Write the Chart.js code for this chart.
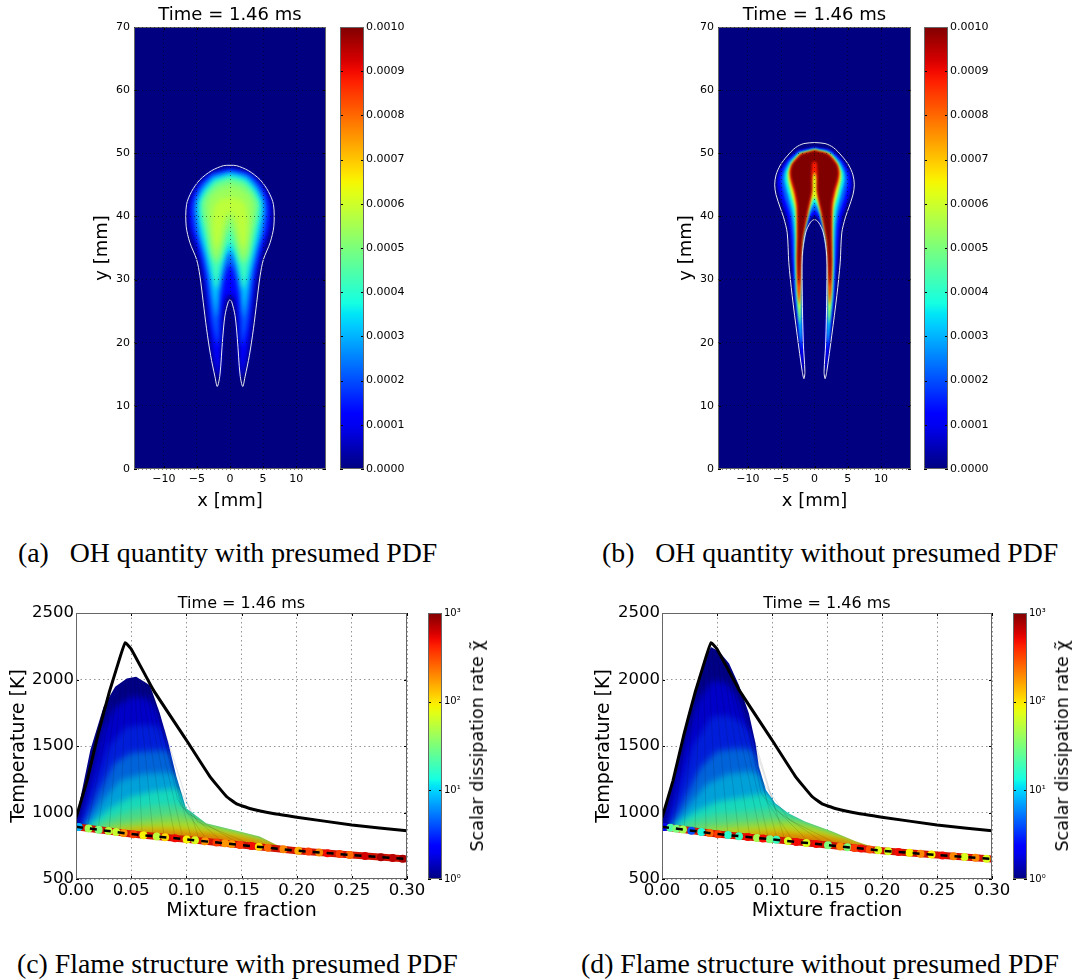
<!DOCTYPE html>
<html>
<head>
<meta charset="utf-8">
<style>
  html, body { margin: 0; background: #fff; }
  body { width: 1091px; height: 980px; position: relative; overflow: hidden; }
  canvas { position: absolute; }
  .cap { position: absolute; font-family: "Liberation Serif", serif; font-size: 27.8px; color: #000; white-space: pre; line-height: 30px; }
  .cbl { position: absolute; top: 746px; font-family: "DejaVu Sans", sans-serif; font-size: 17.5px; color: #000; white-space: pre; transform: translate(-50%, -50%) rotate(-90deg); }
</style>
</head>
<body>
<div class="cap" style="left:18px;top:538px">(a)   OH quantity with presumed PDF</div>
<div class="cap" style="left:602px;top:538px">(b)   OH quantity without presumed PDF</div>
<div class="cap" style="left:17px;top:949px">(c) Flame structure with presumed PDF</div>
<div class="cap" style="left:581px;top:949px">(d) Flame structure without presumed PDF</div>
<script src="https://cdn.jsdelivr.net/npm/chart.js@4"></script>
<script>
// top panels: half contours of the OH field, mirrored about x = 0
const fieldXTicks = [-10, -5, 0, 5, 10];
const fieldXLabels = ['−10', '−5', '0', '5', '10'];
const fieldYTicks = [0, 10, 20, 30, 40, 50, 60, 70];
const fieldYLabels = ['0', '10', '20', '30', '40', '50', '60', '70'];
const ohTicks = [0, 0.0001, 0.0002, 0.0003, 0.0004, 0.0005, 0.0006, 0.0007, 0.0008, 0.0009, 0.001];
const ohTickLabels = ['0.0000', '0.0001', '0.0002', '0.0003', '0.0004', '0.0005', '0.0006', '0.0007', '0.0008', '0.0009', '0.0010'];

const aOutlineX = [0, 1.0, 2.78, 4.55, 5.8, 6.57, 6.62, 6.06, 5.05, 4.55, 4.04, 3.54, 2.93, 2.27, 1.92, 1.52, 1.11, 0.76, 0.25, 0];
const aOutlineY = [48.1, 48.04, 47.25, 45.8, 43.95, 41.86, 38.45, 35.84, 33.2, 30.6, 26.4, 22.2, 18.0, 14.6, 13.06, 14.9, 20.65, 24.3, 26.5, 26.8];
const aLevels = [0.00011, 0.00022, 0.00033, 0.00043, 0.0005, 0.00054, 0.00058];
const aLevelX = [
  [0, 2.7, 4.5, 5.7, 6.2, 6.1, 5.3, 4.5, 4.0, 3.5, 3.1, 2.6, 2.1, 1.7, 1.45, 1.3, 1.1, 0.5, 0],
  [0, 2.6, 4.3, 5.3, 5.6, 5.3, 4.4, 3.6, 3.1, 2.6, 2.1, 1.8, 1.7, 1.6, 1.0, 0.5, 0],
  [0, 2.5, 4.0, 4.9, 5.0, 4.5, 3.7, 3.0, 2.6, 2.2, 2.0, 1.9, 1.75, 1.3, 0.6, 0],
  [0, 2.3, 3.7, 4.5, 4.5, 3.9, 3.2, 2.6, 2.2, 1.95, 1.75, 1.4, 0.7, 0],
  [0, 2.1, 3.4, 4.1, 3.9, 3.3, 2.9, 2.4, 2.0, 1.6, 1.1, 0.5, 0],
  [0, 1.8, 3.0, 3.4, 3.2, 2.8, 2.4, 2.0, 1.6, 1.1, 0.6, 0],
  [0, 1.5, 2.4, 2.6, 2.5, 2.2, 1.95, 1.6, 1.2, 0.7, 0]
];
const aLevelY = [
  [47.7, 47, 45.4, 43.5, 41.5, 38.5, 35.8, 33, 30.5, 26.4, 22.2, 18, 15.5, 14.5, 17, 20.6, 24.3, 27.3, 27.6],
  [47.3, 46.7, 45, 43, 41, 38, 34.8, 31, 27, 23, 20.5, 19.5, 22, 26, 29.5, 31.5, 32.5],
  [46.9, 46.2, 44.5, 42.5, 40.5, 37, 33.8, 30.5, 27.5, 25, 24, 25.5, 28.5, 31, 33.5, 34.5],
  [46.4, 45.7, 44, 42.3, 40.3, 37, 34, 31, 29, 28.5, 30, 32, 34.5, 35.8],
  [45.8, 45.1, 43.6, 42, 39.7, 37, 34.5, 33, 32.5, 33.2, 35, 37, 38],
  [44.8, 44.2, 43, 41.5, 39, 36.5, 34.2, 33.6, 34.5, 36.5, 38.5, 39.5],
  [43, 42.7, 41.5, 39.5, 37, 35.3, 35, 36, 38, 39.8, 40.8]
];

const bOutlineX = [0, 1.59, 2.85, 4.12, 5.13, 5.78, 5.98, 5.78, 5.13, 4.62, 4.1, 3.86, 3.36, 2.6, 1.84, 1.59, 1.44, 1.69, 1.84, 1.84, 1.34, 0.58, 0];
const bOutlineY = [51.7, 51.54, 50.9, 49.55, 48.14, 46.57, 45, 43.43, 41.33, 39.76, 37.4, 32.7, 27.5, 21.2, 15.4, 14.3, 15.4, 20.1, 27.5, 33.7, 37.4, 39.1, 39.5];
const bLevels = [0.00011, 0.00022, 0.00036, 0.00062, 0.00088, 0.001];
const bLevelX = [
  [0, 2.5, 4.1, 5.3, 5.6, 5.1, 4.1, 3.7, 3.4, 3.0, 2.4, 1.85, 1.7, 1.6, 1.9, 1.95, 1.45, 0.7, 0],
  [0, 2.4, 3.9, 4.8, 5.0, 4.5, 3.6, 3.3, 3.1, 2.85, 2.3, 1.95, 1.85, 1.95, 2.0, 1.5, 0.7, 0],
  [0, 2.3, 3.7, 4.4, 4.5, 4.0, 3.3, 3.0, 2.95, 2.75, 2.3, 2.05, 2.0, 2.05, 2.05, 1.6, 0.8, 0],
  [0, 2.2, 3.5, 4.0, 4.0, 3.5, 2.9, 2.75, 2.75, 2.6, 2.35, 2.2, 2.05, 2.0, 2.0, 1.7, 0.9, 0],
  [0, 2.1, 3.4, 3.75, 3.6, 3.1, 2.7, 2.6, 2.65, 2.55, 2.35, 2.25, 2.05, 1.85, 1.0, 0.35, 0.3, 0],
  [0, 2.0, 3.3, 3.55, 3.4, 2.9, 2.55, 2.5, 2.55, 2.45, 2.3, 2.15, 2.0, 1.8, 1.1, 0.45, 0.45, 0.4, 0.3, 0]
];
const bLevelY = [
  [51, 50.5, 49, 47, 45, 42.8, 39.8, 37.4, 32.7, 27.5, 21.2, 16, 15.5, 20, 27.5, 33.7, 37.2, 39.5, 40.2],
  [50.8, 50.3, 48.8, 47, 45.5, 43, 40, 37, 32.7, 27.5, 22, 19, 22, 28, 33.7, 37, 40, 41],
  [50.7, 50.1, 48.6, 47, 45.7, 43.5, 40.5, 37, 32.7, 27.5, 23, 20, 25, 30, 33.5, 36.8, 40.5, 42],
  [50.6, 50, 48.4, 47, 45.8, 43.5, 41, 37, 32.7, 28, 24.5, 23, 27, 30, 33, 36.5, 40.5, 43],
  [50.5, 49.9, 48.3, 47, 45.7, 43.8, 41.5, 37, 32.7, 28.5, 26.5, 26, 30, 36, 40.5, 44, 46, 47],
  [50.4, 49.8, 48.2, 47, 45.8, 44, 42, 38, 33, 30.5, 29, 31, 34, 36.5, 40.8, 44, 46.5, 47.5, 48.5, 48.7]
];

// bottom panels: flame structure
const mixXTicks = [0, 0.05, 0.1, 0.15, 0.2, 0.25, 0.3];
const mixXLabels = ['0.00', '0.05', '0.10', '0.15', '0.20', '0.25', '0.30'];
const tempYTicks = [500, 1000, 1500, 2000, 2500];
const tempYLabels = ['500', '1000', '1500', '2000', '2500'];
const chiTicks = [1, 10, 100, 1000];
const chiTickLabels = ['10⁰', '10¹', '10²', '10³'];

const eqZ = [0, 0.01, 0.02, 0.03, 0.04, 0.0446, 0.05, 0.0702, 0.1, 0.1214, 0.1364, 0.1455, 0.1575, 0.1786, 0.2, 0.25, 0.3];
const eqT = [960, 1240, 1590, 1900, 2170, 2277, 2230, 1920, 1545, 1270, 1120, 1065, 1030, 992, 965, 906, 863];
const baseZ = [0, 0.05, 0.1, 0.15, 0.2, 0.25, 0.3];
const baseT = [893, 838, 798, 755, 713, 680, 650];

const cLevels = [1.2, 1.9, 3, 5.2, 8.5, 14, 22, 36, 63, 110, 220];
const cLevelZ = [
  [0, 0.013, 0.025, 0.0355, 0.046, 0.0545, 0.067, 0.076, 0.0837, 0.091, 0.0997, 0.118, 0.1485, 0.1666, 0.1816, 0.2027, 0.22],
  [0.002, 0.014, 0.024, 0.035, 0.05, 0.065, 0.075, 0.0837, 0.091, 0.0997, 0.118, 0.1485, 0.1666, 0.1816, 0.2027, 0.22],
  [0.004, 0.016, 0.03, 0.045, 0.06, 0.075, 0.083],
  [0.006, 0.02, 0.035, 0.05, 0.065, 0.08, 0.086],
  [0.008, 0.025, 0.04, 0.06, 0.08, 0.09],
  [0.01, 0.03, 0.05, 0.07, 0.09, 0.094],
  [0.012, 0.03, 0.05, 0.07, 0.09, 0.0985],
  [0.016, 0.04, 0.07, 0.095, 0.105, 0.12, 0.15, 0.17, 0.185, 0.21],
  [0.022, 0.05, 0.08, 0.105, 0.125, 0.15, 0.165, 0.18, 0.205],
  [0.03, 0.06, 0.09, 0.12, 0.15, 0.18, 0.2, 0.22],
  [0.04, 0.08, 0.12, 0.15, 0.2]
];
const cLevelT = [
  [945, 1470, 1795, 1945, 2007, 2020, 1957, 1745, 1520, 1270, 1033, 920, 858, 820, 757, 707, 680],
  [900, 1300, 1620, 1790, 1870, 1860, 1760, 1510, 1265, 1030, 915, 853, 815, 752, 702, 678],
  [900, 1200, 1500, 1640, 1660, 1650, 1530],
  [890, 1150, 1370, 1450, 1460, 1470, 1440],
  [885, 1100, 1240, 1290, 1300, 1290],
  [885, 1030, 1120, 1160, 1180, 1160],
  [880, 960, 1020, 1050, 1060, 1040],
  [875, 930, 970, 990, 960, 905, 850, 812, 755, 700],
  [868, 895, 925, 925, 885, 840, 800, 755, 700],
  [860, 880, 880, 855, 820, 765, 720, 695],
  [850, 850, 830, 795, 725]
];
const dLevels = [1.2, 1.9, 3, 5.2, 8.5, 14, 22, 36, 63, 110, 220];
const dLevelZ = [
  [0, 0.01, 0.02, 0.03, 0.04, 0.0445, 0.052, 0.061, 0.07, 0.079, 0.085, 0.088, 0.0945, 0.103, 0.115, 0.13, 0.155, 0.176, 0.195, 0.207, 0.225],
  [0.003, 0.012, 0.022, 0.032, 0.045, 0.058, 0.068, 0.077, 0.084, 0.087, 0.094, 0.103, 0.115, 0.13, 0.155, 0.176, 0.195, 0.207, 0.225],
  [0.005, 0.015, 0.028, 0.045, 0.06, 0.072, 0.08, 0.086],
  [0.008, 0.02, 0.035, 0.05, 0.065, 0.08, 0.085],
  [0.009, 0.025, 0.04, 0.06, 0.08, 0.089],
  [0.01, 0.03, 0.05, 0.07, 0.09, 0.096],
  [0.012, 0.03, 0.05, 0.075, 0.1, 0.108],
  [0.02, 0.04, 0.07, 0.1, 0.125, 0.15, 0.17, 0.195, 0.215],
  [0.03, 0.06, 0.09, 0.115, 0.14, 0.165, 0.19, 0.215],
  [0.05, 0.08, 0.11, 0.14, 0.17, 0.2, 0.225],
  [0.07, 0.11, 0.14, 0.17, 0.2, 0.23]
];
const dLevelT = [
  [945, 1240, 1590, 1900, 2170, 2245, 2210, 2120, 1957, 1745, 1520, 1345, 1170, 1070, 995, 932, 858, 783, 733, 707, 672],
  [900, 1250, 1560, 1830, 1990, 1980, 1880, 1720, 1500, 1330, 1160, 1060, 985, 925, 852, 778, 728, 702, 668],
  [895, 1150, 1500, 1720, 1730, 1680, 1600, 1440],
  [890, 1100, 1340, 1460, 1480, 1480, 1430],
  [888, 1060, 1210, 1290, 1310, 1280],
  [885, 1010, 1080, 1110, 1140, 1140],
  [880, 950, 990, 1010, 1030, 1030],
  [868, 905, 935, 955, 935, 865, 800, 735, 695],
  [860, 880, 905, 920, 880, 815, 745, 695],
  [840, 855, 870, 840, 790, 725, 685],
  [825, 830, 815, 775, 720, 680]
];

// mesh ribs, one per line: base point to crest point
const cRibZ = [[0.01, 0.03], [0.02, 0.036], [0.03, 0.04], [0.04, 0.045], [0.05, 0.05], [0.06, 0.053], [0.07, 0.056], [0.08, 0.059], [0.09, 0.062], [0.097, 0.065], [0.105, 0.068], [0.112, 0.071], [0.12, 0.092, 0.074], [0.135, 0.095, 0.08], [0.15, 0.1, 0.086], [0.165, 0.11, 0.092]];
const cRibT = [[880, 1720], [870, 1850], [860, 1920], [850, 1980], [838, 2010], [828, 2015], [820, 2015], [812, 2005], [805, 1990], [798, 1965], [790, 1930], [785, 1860], [778, 1100, 1790], [765, 1050, 1630], [755, 1000, 1400], [738, 930, 1200]];
const dRibZ = [[0.01, 0.022], [0.02, 0.028], [0.03, 0.034], [0.04, 0.038], [0.05, 0.042], [0.06, 0.046], [0.07, 0.05], [0.08, 0.054], [0.09, 0.057], [0.097, 0.06], [0.105, 0.064], [0.112, 0.068], [0.12, 0.09, 0.072], [0.135, 0.095, 0.079], [0.15, 0.103, 0.085], [0.165, 0.115, 0.09]];
const dRibT = [[880, 1640], [870, 1830], [860, 1960], [850, 2090], [838, 2190], [828, 2220], [820, 2215], [812, 2190], [805, 2150], [798, 2110], [790, 2050], [785, 1980], [778, 1150, 1900], [765, 1100, 1700], [755, 1020, 1480], [738, 950, 1250]];

// scattered low-temperature points and their chi colour value
const cDotZ = [0.0024, 0.0114, 0.0205, 0.0295, 0.0364, 0.0431, 0.0521, 0.0611, 0.0732, 0.0807, 0.0898, 0.1003, 0.1078, 0.1169, 0.1274, 0.135, 0.141, 0.1485, 0.159, 0.1657, 0.174, 0.188, 0.2015, 0.2105, 0.2204, 0.228, 0.239, 0.248, 0.262, 0.2764, 0.287, 0.296];
const cDotChi = [8, 45, 32, 55, 60, 180, 350, 90, 55, 110, 500, 90, 70, 180, 350, 180, 180, 350, 500, 110, 250, 200, 150, 350, 200, 500, 350, 250, 600, 800, 700, 800];
const dDotZ = [0.0024, 0.0076, 0.013, 0.019, 0.0267, 0.0358, 0.0433, 0.051, 0.06, 0.07, 0.078, 0.0864, 0.0918, 0.098, 0.1039, 0.1145, 0.122, 0.1312, 0.1403, 0.1509, 0.162, 0.1685, 0.175, 0.181, 0.1888, 0.1964, 0.2055, 0.215, 0.225, 0.235, 0.245, 0.255, 0.265, 0.275, 0.285, 0.295];
const dDotChi = [2, 22, 32, 45, 4, 14, 250, 350, 16, 18, 500, 45, 500, 32, 18, 70, 500, 70, 500, 32, 200, 32, 350, 500, 300, 70, 70, 500, 90, 200, 90, 500, 200, 70, 200, 70];

const ohBarRange = [0, 0.001];
const chiBarRange = [1, 1000];

function jet(j, shade) {
  j = Math.max(0, Math.min(1, j));
  const ramp = (pts) => {
    for (let i = 1; i < pts.length; i++) {
      if (j <= pts[i][0]) {
        const t = (j - pts[i - 1][0]) / (pts[i][0] - pts[i - 1][0]);
        return pts[i - 1][1] + t * (pts[i][1] - pts[i - 1][1]);
      }
    }
    return pts[pts.length - 1][1];
  };
  const s = shade || 1;
  const r = ramp([[0, 0], [0.35, 0], [0.66, 1], [0.89, 1], [1, 0.5]]);
  const g = ramp([[0, 0], [0.125, 0], [0.375, 1], [0.64, 1], [0.91, 0], [1, 0]]);
  const b = ramp([[0, 0.5], [0.11, 1], [0.34, 1], [0.65, 0], [1, 0]]);
  return `rgb(${Math.round(r * 255 * s)},${Math.round(g * 255 * s)},${Math.round(b * 255 * s)})`;
}
const chiJet = (chi, shade) => jet(Math.log10(chi) / 3, shade);

const zip = (xs, ys) => xs.map((x, i) => ({ x, y: ys[i] }));
const mirrored = (xs, ys) => {
  const right = zip(xs, ys);
  const left = right.slice(1, -1).reverse().map(p => ({ x: -p.x, y: p.y }));
  return right.concat(left);
};

// inline plugin: plot background, frame, inward tick marks and per-dataset blur
const panelPlugin = {
  id: 'panel',
  beforeDatasetsDraw(chart, args, opts) {
    const { ctx, chartArea: a } = chart;
    if (opts.background) {
      ctx.fillStyle = opts.background;
      ctx.fillRect(a.left, a.top, a.width, a.height);
    }
    const metas = chart.getSortedVisibleDatasetMetas();
    setBlur(chart, metas[metas.length - 1], opts);
  },
  afterDatasetDraw(chart, args, opts) {
    const metas = chart.getSortedVisibleDatasetMetas();
    setBlur(chart, metas[metas.indexOf(args.meta) - 1], opts);
  },
  afterDatasetsDraw(chart, args, opts) {
    const { ctx, chartArea: a } = chart;
    ctx.filter = 'none';
    ctx.globalCompositeOperation = 'source-over';
    ctx.save();
    ctx.strokeStyle = '#000';
    ctx.lineWidth = 1;
    const len = opts.tickLen || 0;
    if (len) {
      ctx.beginPath();
      (chart.scales.x.options.display ? chart.scales.x.ticks : []).forEach(t => {
        const px = Math.round(chart.scales.x.getPixelForValue(t.value)) + 0.5;
        ctx.moveTo(px, a.bottom); ctx.lineTo(px, a.bottom - len);
        ctx.moveTo(px, a.top); ctx.lineTo(px, a.top + len);
      });
      chart.scales.y.ticks.forEach(t => {
        const py = Math.round(chart.scales.y.getPixelForValue(t.value)) + 0.5;
        ctx.moveTo(a.left, py); ctx.lineTo(a.left + len, py);
        ctx.moveTo(a.right, py); ctx.lineTo(a.right - len, py);
      });
      ctx.stroke();
    }
    ctx.strokeStyle = '#666';
    ctx.strokeRect(a.left + 0.5, a.top + 0.5, a.width - 1, a.height - 1);
    ctx.restore();
  }
};
function setBlur(chart, meta, opts) {
  const ds = meta ? chart.data.datasets[meta.index] : null;
  chart.ctx.filter = ds && ds.soft ? `blur(${opts.blur}px)` : 'none';
  // soft layers stay inside what is already painted, so they don't bleed past the flame edge
  chart.ctx.globalCompositeOperation = ds && ds.soft ? 'source-atop' : 'source-over';
}

function makeCanvas(box) {
  const c = document.createElement('canvas');
  c.width = box.w; c.height = box.h;
  c.style.left = box.x + 'px'; c.style.top = box.y + 'px';
  c.style.width = box.w + 'px'; c.style.height = box.h + 'px';
  document.body.appendChild(c);
  return c;
}

// box is the canvas, area the wanted plot rectangle, both in page pixels
function panelChart(box, area, datasets, o) {
  const titleH = o.titleSize * 1.2 + o.titleGap;
  const axis = (min, max, ticks, labels, title, size, pad) => ({
    type: 'linear', min, max,
    afterBuildTicks: s => { s.ticks = ticks.map(value => ({ value })); },
    afterFit: s => { if (s.isHorizontal()) s.height = size; else s.width = size; },
    ticks: { autoSkip: false, maxRotation: 0, color: '#000', padding: o.tickPad, font: { family: 'DejaVu Sans', size: o.tickSize }, callback: (v, i) => labels[i] },
    title: { display: true, text: title, color: '#000', padding: pad, font: { family: 'DejaVu Sans', size: o.axisSize } },
    grid: { color: o.gridColor, z: o.gridZ, drawTicks: false, lineWidth: 1 },
    border: { dash: o.gridDash, display: false }
  });
  return new Chart(makeCanvas(box), {
    type: 'scatter',
    data: { datasets: datasets.map((d, i) => Object.assign({ order: -i }, d)) },
    plugins: [panelPlugin],
    options: {
      responsive: false, animation: false, events: [],
      layout: { padding: { left: 0, top: area.y1 - box.y - titleH, right: box.x + box.w - area.x2, bottom: 0 } },
      plugins: {
        legend: { display: false }, tooltip: { enabled: false },
        title: { display: true, fullSize: false, text: o.title, color: '#000', padding: { top: 0, bottom: o.titleGap }, font: { family: 'DejaVu Sans', size: o.titleSize, weight: 'normal' } },
        panel: { background: o.background, blur: o.blur, tickLen: o.tickLen }
      },
      scales: {
        x: axis(o.xMin, o.xMax, o.xTicks, o.xLabels, o.xTitle, box.y + box.h - area.y2, o.xTitlePad),
        y: axis(o.yMin, o.yMax, o.yTicks, o.yLabels, o.yTitle, area.x1 - box.x, o.yTitlePad)
      }
    }
  });
}

function colorbar(box, area, range, log, ticks, labels, tickSize) {
  const grad = (ctx) => {
    const a = ctx.chart.chartArea;
    if (!a) return '#000';
    const g = ctx.chart.ctx.createLinearGradient(0, a.bottom, 0, a.top);
    for (let i = 0; i <= 40; i++) g.addColorStop(i / 40, jet(i / 40));
    return g;
  };
  return new Chart(makeCanvas(box), {
    type: 'bar',
    data: { labels: ['bar'], datasets: [{ data: [range], backgroundColor: grad, barPercentage: 1, categoryPercentage: 1 }] },
    plugins: [panelPlugin],
    options: {
      responsive: false, animation: false, events: [],
      layout: { padding: { left: area.x1 - box.x, top: area.y1 - box.y, bottom: box.y + box.h - area.y2, right: 0 } },
      plugins: { legend: { display: false }, tooltip: { enabled: false }, panel: { tickLen: 3 } },
      scales: {
        x: { display: false },
        y: {
          type: log ? 'logarithmic' : 'linear', position: 'right', min: range[0], max: range[1],
          afterBuildTicks: s => { s.ticks = ticks.map(value => ({ value })); },
          afterFit: s => { s.width = box.x + box.w - area.x2; },
          ticks: { autoSkip: false, color: '#000', padding: 2, font: { family: 'DejaVu Sans', size: tickSize }, callback: (v, i) => labels[i] },
          grid: { display: false, drawTicks: false },
          border: { display: false }
        }
      }
    }
  });
}

function fieldPanel(box, area, levels, levelX, levelY, outX, outY, blur) {
  const sets = levels.map((v, i) => ({
    data: mirrored(levelX[i], levelY[i]), showLine: true, pointRadius: 0, borderWidth: 0, tension: 0.25,
    fill: 'shape', backgroundColor: jet(v / 0.001), soft: true
  }));
  const outline = mirrored(outX, outY);
  outline.push(outline[0]);
  sets.push({ data: outline, showLine: true, pointRadius: 0, borderWidth: 1, borderColor: '#e8e8f0', tension: 0.3, fill: false });
  panelChart(box, area, sets, {
    title: 'Time = 1.46 ms', titleSize: 18, titleGap: 1, axisSize: 18, tickSize: 11, tickPad: 4,
    xMin: -14.5, xMax: 14.5, yMin: 0, yMax: 70,
    xTicks: fieldXTicks, xLabels: fieldXLabels, yTicks: fieldYTicks, yLabels: fieldYLabels,
    xTitle: 'x [mm]', yTitle: 'y [mm]', xTitlePad: { top: 0, bottom: 3 }, yTitlePad: { top: 2, bottom: 0 },
    gridColor: 'rgba(0,0,0,0.5)', gridDash: [1, 3], gridZ: 1, background: jet(0), blur, tickLen: 3
  });
}

function flamePanel(box, area, levels, levelZ, levelT, ribZ, ribT, dotZ, dotChi) {
  const sets = levels.map((chi, i) => {
    const upper = zip(levelZ[i], levelT[i]);
    const end = levelZ[i][levelZ[i].length - 1];
    // short contours run on down the flame's outer edge
    if (end < 0.11) {
      zip(levelZ[0], levelT[0]).forEach(p => { if (p.x > end) upper.push(p); });
    }
    const tail = upper[upper.length - 1].x;
    const lower = zip(baseZ, baseT).filter(p => p.x < tail && p.x >= upper[0].x).reverse();
    return {
      data: upper.concat(lower), showLine: true, pointRadius: 0, borderWidth: 0, tension: 0,
      fill: 'shape', backgroundColor: chiJet(chi, 0.85), soft: i > 0
    };
  });
  ribZ.forEach((z, i) => {
    sets.push({ data: zip(z, ribT[i]), showLine: true, pointRadius: 0, borderWidth: 0.6, borderColor: 'rgba(0,0,0,0.2)', fill: false });
  });
  sets.push({ data: zip(baseZ, baseT), showLine: true, pointRadius: 0, borderWidth: 7, borderColor: '#d01400', fill: false });
  sets.push({
    data: dotZ.map(z => ({ x: z, y: interpBase(z) })), showLine: false,
    pointRadius: 4, borderWidth: 0, pointBackgroundColor: dotChi.map(c => chiJet(c))
  });
  sets.push({ data: zip(baseZ, baseT), showLine: true, pointRadius: 0, borderWidth: 2.5, borderColor: '#000', borderDash: [7, 7], fill: false });
  sets.push({ data: zip(eqZ, eqT), showLine: true, pointRadius: 0, borderWidth: 3, borderColor: '#000', tension: 0.1, fill: false, borderJoinStyle: 'round' });
  panelChart(box, area, sets, {
    title: 'Time = 1.46 ms', titleSize: 16, titleGap: 0, axisSize: 19, tickSize: 16.5, tickPad: 2,
    xMin: 0, xMax: 0.3, yMin: 500, yMax: 2500,
    xTicks: mixXTicks, xLabels: mixXLabels, yTicks: tempYTicks, yLabels: tempYLabels,
    xTitle: 'Mixture fraction', yTitle: 'Temperature [K]', xTitlePad: { top: 0, bottom: 3 }, yTitlePad: { top: 8, bottom: 0 },
    gridColor: 'rgba(130,130,130,0.85)', gridDash: [1.5, 3], gridZ: 0, blur: 3, tickLen: 3
  });
}
function interpBase(z) {
  let i = 1;
  while (i < baseZ.length - 1 && z > baseZ[i]) i++;
  return baseT[i - 1] + (z - baseZ[i - 1]) / (baseZ[i] - baseZ[i - 1]) * (baseT[i] - baseT[i - 1]);
}

fieldPanel({ x: 90, y: 0, w: 240, h: 515 }, { x1: 134, y1: 27, x2: 326, y2: 469 }, aLevels, aLevelX, aLevelY, aOutlineX, aOutlineY, 2.5);
fieldPanel({ x: 674, y: 0, w: 241, h: 515 }, { x1: 718, y1: 27, x2: 911, y2: 469 }, bLevels, bLevelX, bLevelY, bOutlineX, bOutlineY, 0.9);
colorbar({ x: 330, y: 10, w: 90, h: 475 }, { x1: 340, y1: 27, x2: 364, y2: 469 }, ohBarRange, false, ohTicks, ohTickLabels, 11);
colorbar({ x: 915, y: 10, w: 90, h: 475 }, { x1: 924, y1: 27, x2: 948, y2: 469 }, ohBarRange, false, ohTicks, ohTickLabels, 11);

flamePanel({ x: 0, y: 585, w: 429, h: 340 }, { x1: 76, y1: 613, x2: 407, y2: 879 }, cLevels, cLevelZ, cLevelT, cRibZ, cRibT, cDotZ, cDotChi);
flamePanel({ x: 585, y: 585, w: 429, h: 340 }, { x1: 662, y1: 613, x2: 992, y2: 879 }, dLevels, dLevelZ, dLevelT, dRibZ, dRibT, dDotZ, dDotChi);
colorbar({ x: 420, y: 600, w: 50, h: 295 }, { x1: 428, y1: 613, x2: 442, y2: 879 }, chiBarRange, true, chiTicks, chiTickLabels, 10);
colorbar({ x: 1005, y: 600, w: 50, h: 295 }, { x1: 1013, y1: 613, x2: 1027, y2: 879 }, chiBarRange, true, chiTicks, chiTickLabels, 10);

[477, 1062].forEach(left => {
  const d = document.createElement('div');
  d.className = 'cbl';
  d.style.left = left + 'px';
  d.textContent = 'Scalar dissipation rate χ̃';
  document.body.appendChild(d);
});
</script>
</body>
</html>
